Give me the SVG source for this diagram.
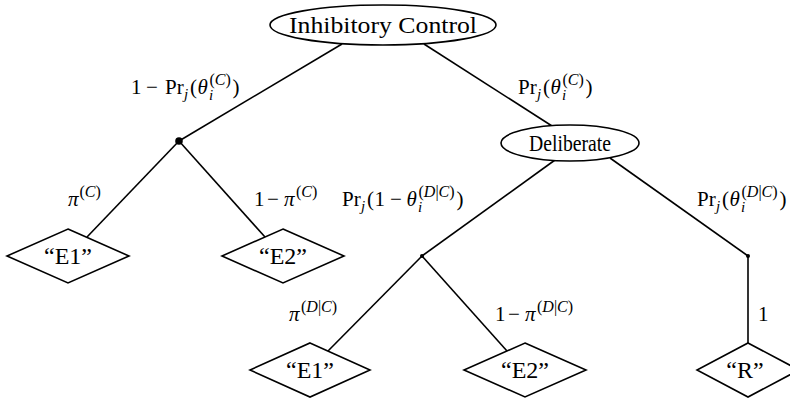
<svg xmlns="http://www.w3.org/2000/svg" width="790" height="398" viewBox="0 0 790 398">
<style>
.shape{fill:#fff;stroke:#000;stroke-width:1.6}
.edge{stroke:#000;stroke-width:1.6;fill:none}
text{font-family:'Liberation Serif','DejaVu Serif','Times New Roman',serif;fill:#000}
.node{font-size:24px;text-anchor:middle}
.lbl{font-size:21px}
.it{font-style:italic}
.sb{font-size:15px}
.sp{font-size:16px}
</style>
<g id="connectors">
<line class="edge" x1="342" y1="44" x2="179" y2="141"/>
<line class="edge" x1="424" y1="44" x2="552" y2="126"/>
<line class="edge" x1="179" y1="141" x2="87" y2="237"/>
<line class="edge" x1="179" y1="141" x2="265" y2="237"/>
<line class="edge" x1="555" y1="160" x2="422" y2="256"/>
<line class="edge" x1="610" y1="158" x2="748" y2="256"/>
<line class="edge" x1="422" y1="256" x2="328" y2="351"/>
<line class="edge" x1="422" y1="256" x2="507" y2="351"/>
<line class="edge" x1="748" y1="256" x2="748" y2="343"/>
</g>
<g id="labels">
<text class="lbl"><tspan x="131" y="94">1</tspan><tspan x="146" y="94">−</tspan><tspan x="165" y="94">Pr</tspan><tspan class="it sb" x="184" y="99">j</tspan><tspan x="190" y="94">(</tspan><tspan class="it" x="197.5" y="94">θ</tspan><tspan class="sp" x="209.5" y="85">(<tspan class="it">C</tspan>)</tspan><tspan class="it sb" x="209" y="100">i</tspan><tspan x="232.5" y="94">)</tspan></text>
<text class="lbl"><tspan x="518" y="94">Pr</tspan><tspan class="it sb" x="537" y="99">j</tspan><tspan x="543" y="94">(</tspan><tspan class="it" x="550.5" y="94">θ</tspan><tspan class="sp" x="562.5" y="85">(<tspan class="it">C</tspan>)</tspan><tspan class="it sb" x="562" y="100">i</tspan><tspan x="585.5" y="94">)</tspan></text>
<text class="lbl"><tspan class="it" x="68" y="206">π</tspan><tspan class="sp" x="79.5" y="197">(<tspan class="it">C</tspan>)</tspan></text>
<text class="lbl"><tspan x="254" y="206">1</tspan><tspan x="267" y="206">−</tspan><tspan class="it" x="284" y="206">π</tspan><tspan class="sp" x="296" y="197">(<tspan class="it">C</tspan>)</tspan></text>
<text class="lbl"><tspan x="342" y="206">Pr</tspan><tspan class="it sb" x="361" y="211">j</tspan><tspan x="367" y="206">(</tspan><tspan x="374.5" y="206">1</tspan><tspan x="390" y="206">−</tspan><tspan class="it" x="406.5" y="206">θ</tspan><tspan class="sp" x="418.5" y="197">(<tspan class="it">D</tspan>|<tspan class="it">C</tspan>)</tspan><tspan class="it sb" x="418" y="212">i</tspan><tspan x="456.5" y="206">)</tspan></text>
<text class="lbl"><tspan x="697" y="206">Pr</tspan><tspan class="it sb" x="716" y="211">j</tspan><tspan x="722" y="206">(</tspan><tspan class="it" x="729.5" y="206">θ</tspan><tspan class="sp" x="741.5" y="197">(<tspan class="it">D</tspan>|<tspan class="it">C</tspan>)</tspan><tspan class="it sb" x="741" y="212">i</tspan><tspan x="779.5" y="206">)</tspan></text>
<text class="lbl"><tspan class="it" x="289" y="321">π</tspan><tspan class="sp" x="301" y="312">(<tspan class="it">D</tspan>|<tspan class="it">C</tspan>)</tspan></text>
<text class="lbl"><tspan x="495" y="321">1</tspan><tspan x="508" y="321">−</tspan><tspan class="it" x="525" y="321">π</tspan><tspan class="sp" x="537" y="312">(<tspan class="it">D</tspan>|<tspan class="it">C</tspan>)</tspan></text>
<text class="lbl" x="758" y="321">1</text>
</g>
<g id="root">
<ellipse class="shape" cx="383" cy="25" rx="113" ry="20"/>
<text class="node" x="383" y="33" textLength="188" lengthAdjust="spacingAndGlyphs">Inhibitory Control</text>
</g>
<g id="chance1"><circle cx="179" cy="141" r="3.8" fill="#000"/></g>
<g id="deliberate">
<ellipse class="shape" cx="570" cy="143" rx="69" ry="18"/>
<text class="node" x="570" y="151" textLength="82" lengthAdjust="spacingAndGlyphs">Deliberate</text>
</g>
<g id="e1a">
<polygon class="shape" points="68,229 129,256 68,283 7,256"/>
<text class="node" x="68" y="264">“E1”</text>
</g>
<g id="e2a">
<polygon class="shape" points="283,229 344,256 283,283 222,256"/>
<text class="node" x="283" y="264">“E2”</text>
</g>
<g id="chance2"><circle cx="422" cy="256" r="2" fill="#000"/></g>
<g id="chance3"><circle cx="748" cy="256" r="2" fill="#000"/></g>
<g id="e1b">
<polygon class="shape" points="310,343 370,370 310,397 250,370"/>
<text class="node" x="310" y="378">“E1”</text>
</g>
<g id="e2b">
<polygon class="shape" points="525,343 586,370 525,397 464,370"/>
<text class="node" x="525" y="378">“E2”</text>
</g>
<g id="r">
<polygon class="shape" points="748,343 799,370 748,397 697,370"/>
<text class="node" x="745" y="378">“R”</text>
</g>
</svg>
